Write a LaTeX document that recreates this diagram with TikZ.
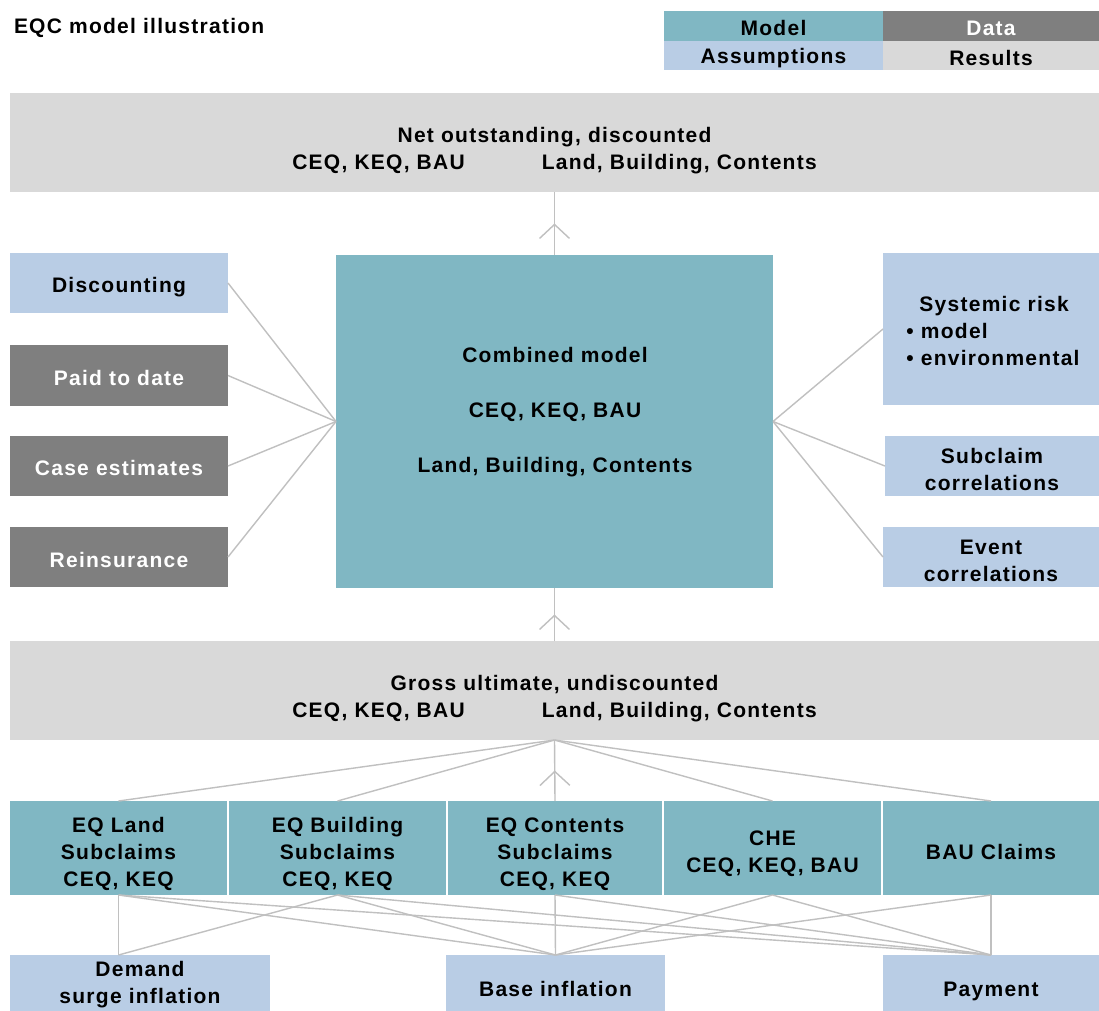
\documentclass[tikz,border=0pt]{standalone}
\usepackage{fontspec}
\setmainfont{Liberation Sans}[LetterSpace=6]
\usetikzlibrary{arrows.meta,decorations.markings,calc}
\definecolor{modelc}{HTML}{80B7C3}
\definecolor{datac}{HTML}{7F7F7F}
\definecolor{assumc}{HTML}{B9CDE5}
\definecolor{resc}{HTML}{D9D9D9}
\definecolor{linec}{HTML}{C0C0C0}
\tikzset{
 boxshape/.style={rectangle, inner sep=0pt, outer sep=0pt},
 boxtext/.style={inner sep=0pt, outer sep=0pt, align=center, font=\fontsize{21}{27}\selectfont\bfseries},
 conn/.style={draw=linec, line width=1.4pt},
 midarrow/.style={conn, postaction={decorate}, decoration={markings, mark=at position 0.5 with {\arrow{Straight Barb[length=14pt,width=30pt,line width=1.4pt]}}}},
}
% \boxnode[text shift]{fill}{text colour}{name}{x1}{y1}{x2}{y2}{text}
\newcommand{\boxnode}[9][3]{%
 \node[boxshape, fill=#2, minimum width={#7-#5}, minimum height={#8-#6}] (#4) at ({(#5+#7)/2},{(#6+#8)/2}) {};
 \node[boxtext, text=#3] (#4-t) at ({(#5+#7)/2},{(#6+#8)/2+#1}) {#9};}
\begin{document}
\begin{tikzpicture}[x=1pt,y=-1pt]
\clip (0,0) rectangle (1099,1010);
\fill[white] (0,0) rectangle (1099,1010);
% title and legend
\node[boxtext, anchor=west] (title) at (14,28) {EQC model illustration};
\boxnode[2]{modelc}{black}{lmodel}{664}{11}{883}{41}{Model}
\boxnode[2]{datac}{white}{ldata}{883}{11}{1099}{41}{Data}
\boxnode[3]{assumc}{black}{lassum}{664}{41}{883}{70}{Assumptions}
\boxnode[2]{resc}{black}{lres}{883}{41}{1099}{70}{Results}
% results
\boxnode[8]{resc}{black}{net}{10}{93}{1099}{192}{Net outstanding, discounted\\CEQ, KEQ, BAU\hspace{77pt}Land, Building, Contents}
% combined model
\boxnode{modelc}{black}{comb}{336}{255}{773}{588}{}
\node[boxtext] (combtext) at (555,412) {Combined model\\[28pt]CEQ, KEQ, BAU\\[28pt]Land, Building, Contents};
% left inputs
\boxnode[4]{assumc}{black}{disc}{10}{253}{228}{313}{Discounting}
\boxnode[2]{datac}{white}{paid}{10}{345}{228}{406}{Paid to date}
\boxnode[2]{datac}{white}{cases}{10}{436}{228}{496}{Case estimates}
\boxnode[3]{datac}{white}{reins}{10}{527}{228}{587}{Reinsurance}
% right assumptions
\boxnode{assumc}{black}{sys}{883}{253}{1099}{405}{}
\node[boxtext, align=left] (systext) at (993,331) {\hspace*{13pt}Systemic risk\\\textbullet\ model\\\textbullet\ environmental};
\boxnode[3]{assumc}{black}{subc}{885}{436}{1099}{496}{Subclaim\\correlations}
\boxnode[4]{assumc}{black}{event}{883}{527}{1099}{587}{Event\\correlations}
% gross
\boxnode[8]{resc}{black}{gross}{10}{641}{1099}{740}{Gross ultimate, undiscounted\\CEQ, KEQ, BAU\hspace{77pt}Land, Building, Contents}
% subclaim models
\boxnode[6]{modelc}{black}{land}{10}{801}{227}{895}{EQ Land\\Subclaims\\CEQ, KEQ}
\boxnode[6]{modelc}{black}{building}{229}{801}{446}{895}{EQ Building\\Subclaims\\CEQ, KEQ}
\boxnode[6]{modelc}{black}{contents}{448}{801}{662}{895}{EQ Contents\\Subclaims\\CEQ, KEQ}
\boxnode[6]{modelc}{black}{che}{664}{801}{881}{895}{CHE\\CEQ, KEQ, BAU}
\boxnode[4]{modelc}{black}{bau}{883}{801}{1099}{895}{BAU Claims}
% bottom assumptions
\boxnode[-3]{assumc}{black}{demand}{10}{955}{270}{1021}{Demand\\surge inflation}
\boxnode[1]{assumc}{black}{base}{446}{955}{665}{1021}{Base inflation}
\boxnode[3]{assumc}{black}{pay}{883}{955}{1099}{1021}{Payment}
% connectors
\draw[midarrow] (comb.north) -- (net.south);
\draw[midarrow] (gross.north) -- (comb.south);
\draw[midarrow] (contents.north) -- (gross.south);
\foreach \n in {land,building,che,bau} \draw[conn] (gross.south) -- (\n.north);
\foreach \n in {disc,paid,cases,reins} \draw[conn] (\n.east) -- (comb.west);
\foreach \n in {sys,subc,event} \draw[conn] (comb.east) -- (\n.west);
\coordinate (dtop) at (land.south |- demand.north);
\foreach \n in {land,building} \draw[conn] (\n.south) -- (dtop);
\foreach \n in {land,building,contents,che,bau} {
  \draw[conn] (\n.south) -- (base.north);
  \draw[conn] (\n.south) -- (pay.north);
}
\end{tikzpicture}
\end{document}
